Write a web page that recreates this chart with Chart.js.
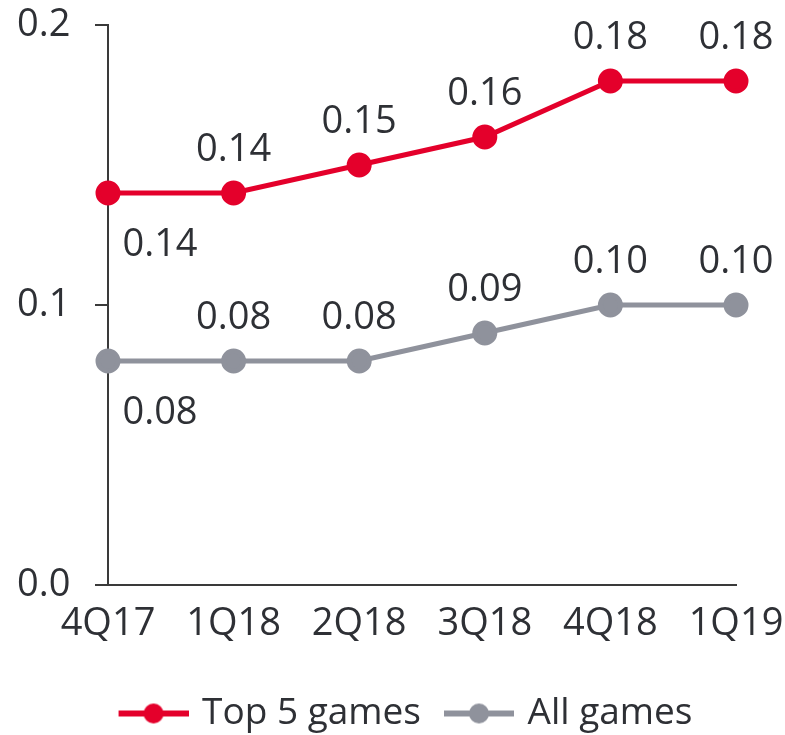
<!DOCTYPE html>
<html>
<head>
<meta charset="utf-8">
<script src="https://cdn.jsdelivr.net/npm/chart.js@4.4.0/dist/chart.umd.min.js"></script>
<style>
  body { margin: 0; background: #fff; }
  #wrap { width: 785px; height: 735px; }
</style>
</head>
<body>
<div id="wrap"><canvas id="myChart"></canvas></div>
<script>
const quarters = ['4Q17', '1Q18', '2Q18', '3Q18', '4Q18', '1Q19'];
const top5Games = [0.14, 0.14, 0.15, 0.16, 0.18, 0.18];
const allGames = [0.08, 0.08, 0.08, 0.09, 0.10, 0.10];
const yTicks = [0.0, 0.1, 0.2];

const RED = '#e4002b';
const GREY = '#8f929c';
const TEXT = '#2e3035';
const FONT = "'Open Sans', sans-serif";
const FSIZE = 38;

// legend icon: short line with a dot, with some empty room on the left
function legendIcon(color) {
    const c = document.createElement('canvas');
    c.width = 90; c.height = 22;
    const g = c.getContext('2d');
    g.strokeStyle = color;
    g.lineWidth = 6;
    g.beginPath(); g.moveTo(20, 11); g.lineTo(90, 11); g.stroke();
    g.fillStyle = color;
    g.beginPath(); g.arc(55, 11, 10, 0, Math.PI * 2); g.fill();
    return c;
}
const icons = [legendIcon(RED), legendIcon(GREY)];

// value labels above points (first one goes below right)
const valueLabels = {
    id: 'valueLabels',
    afterDatasetsDraw(chart) {
        const ctx = chart.ctx;
        ctx.save();
        ctx.font = FSIZE + 'px ' + FONT;
        ctx.fillStyle = TEXT;
        ctx.textAlign = 'center';
        ctx.textBaseline = 'middle';
        chart.data.datasets.forEach((ds, i) => {
            chart.getDatasetMeta(i).data.forEach((pt, j) => {
                const txt = ds.data[j].toFixed(2);
                if (j === 0) {
                    ctx.fillText(txt, pt.x + 52, pt.y + 52);
                } else {
                    ctx.fillText(txt, pt.x, pt.y - 43);
                }
            });
        });
        ctx.restore();
    }
};

const ctx = document.getElementById('myChart').getContext('2d');
new Chart(ctx, {
    type: 'line',
    data: {
        labels: quarters,
        datasets: [
            {
                label: 'Top 5 games',
                data: top5Games,
                borderColor: RED,
                backgroundColor: RED,
                borderWidth: 5,
                pointRadius: 10,
                pointHoverRadius: 10
            },
            {
                label: 'All games',
                data: allGames,
                borderColor: GREY,
                backgroundColor: GREY,
                borderWidth: 5,
                pointRadius: 10,
                pointHoverRadius: 10
            }
        ]
    },
    options: {
        responsive: true,
        maintainAspectRatio: false,
        animation: false,
        layout: { padding: { top: 25, right: 49, left: 60, bottom: -7 } },
        plugins: {
            tooltip: { enabled: false },
            legend: {
                position: 'bottom',
                labels: {
                    usePointStyle: true,
                    pointStyleWidth: 80,
                    padding: 8,
                    color: TEXT,
                    font: { family: FONT, size: 37 },
                    generateLabels(chart) {
                        return Chart.defaults.plugins.legend.labels.generateLabels(chart)
                            .map(l => ({ ...l, pointStyle: icons[l.datasetIndex] }));
                    }
                }
            }
        },
        scales: {
            x: {
                offset: false,
                grid: { display: false },
                border: { display: true, color: '#3a3a3a', width: 2 },
                ticks: {
                    color: TEXT,
                    font: { family: FONT, size: FSIZE },
                    padding: 8,
                    autoSkip: false,
                    maxRotation: 0
                },
                afterFit(scale) {
                    scale.height = 102;
                    scale.paddingLeft = 0;
                    scale.paddingRight = 0;
                }
            },
            y: {
                min: 0,
                max: 0.2,
                afterBuildTicks(scale) { scale.ticks = yTicks.map(v => ({ value: v })); },
                grid: { drawOnChartArea: false, drawTicks: true, tickLength: 13, color: '#3a3a3a', lineWidth: 2 },
                border: { display: true, color: '#3a3a3a', width: 2 },
                ticks: {
                    // mirrored so the labels are not clipped to the narrow axis box
                    mirror: true,
                    color: TEXT,
                    font: { family: FONT, size: FSIZE },
                    padding: -91,
                    callback: v => v.toFixed(1)
                },
                afterFit(scale) {
                    scale.width = 48;
                    scale.paddingTop = 0;
                    scale.paddingBottom = 0;
                }
            }
        }
    },
    plugins: [valueLabels]
});
</script>
</body>
</html>
